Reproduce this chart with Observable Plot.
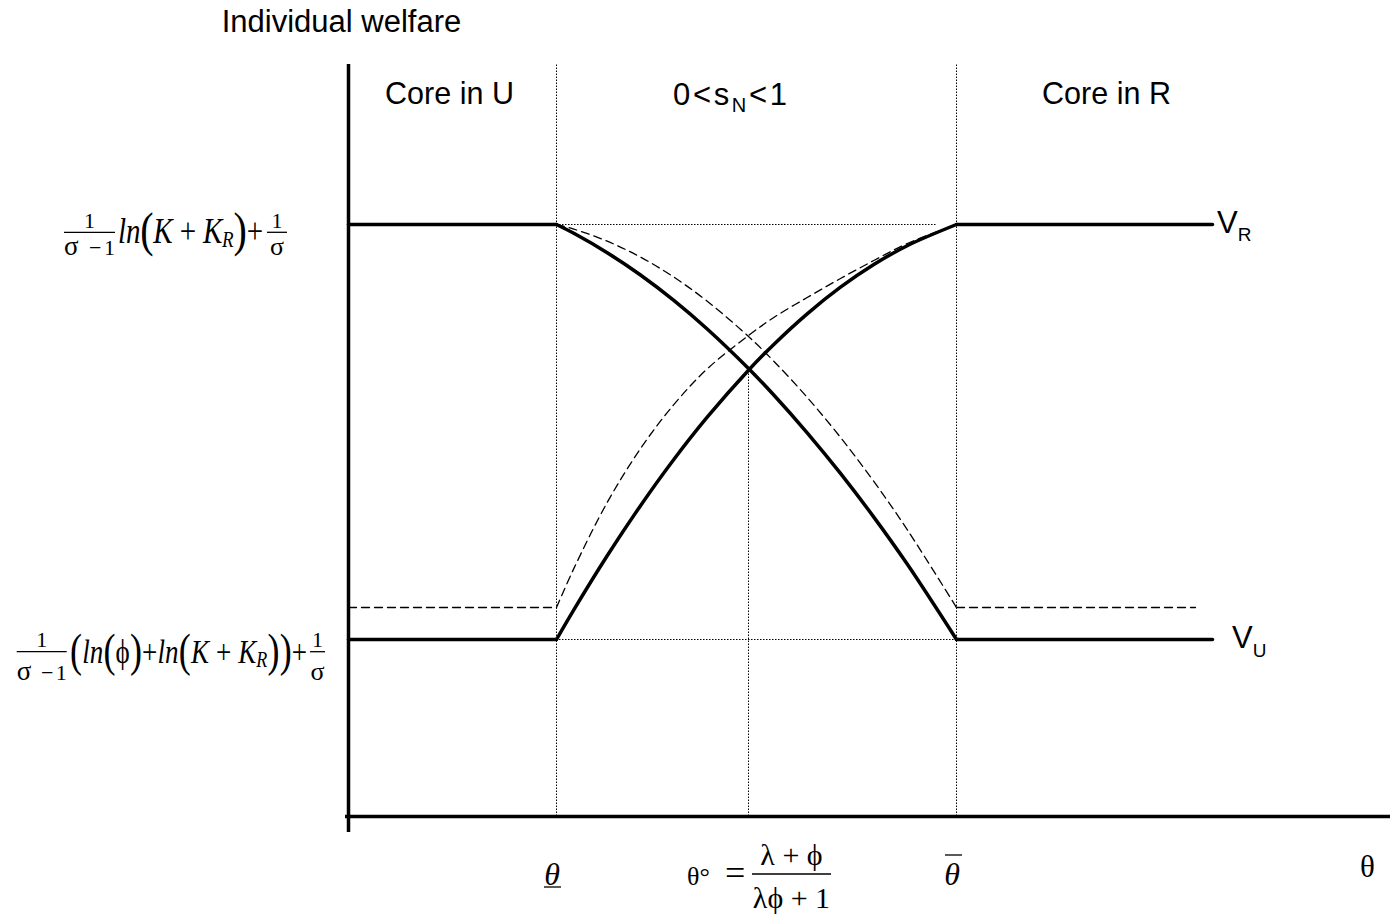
<!DOCTYPE html>
<html><head><meta charset="utf-8">
<script src="https://cdn.jsdelivr.net/npm/d3@7"></script>
<script src="https://cdn.jsdelivr.net/npm/@observablehq/plot@0.6"></script>
<style>html,body{margin:0;padding:0;background:#fff;} svg{display:block}</style>
</head><body><div id="chart"></div>
<script>
// x = θ, y = individual welfare (arbitrary units)
const xMax = 10.42, yMax = 7.52;
const thetaLow = 2.08, thetaMid = 4.0, thetaHigh = 6.08;
const highLevel = 5.92, lowLevel = 1.77, dashedLow = 2.09;
const lineEnd = 8.64, dashedEnd = 8.47, dottedTopEnd = 5.89, crossY = 4.47;

// transition region samples
const curveX   = [2.08, 2.253, 2.587, 2.92, 3.253, 3.587, 4.0, 4.253, 4.587, 4.92, 5.253, 5.587, 6.08];
const vUSolid  = [5.92, 5.832, 5.638, 5.415, 5.161, 4.875, 4.48, 4.215, 3.837, 3.431, 2.994, 2.524, 1.77];
const vRSolid  = [1.77, 2.066, 2.607, 3.108, 3.57, 3.993, 4.463, 4.721, 5.027, 5.293, 5.52, 5.708, 5.92];
const vUDashed = [5.92, 5.874, 5.753, 5.594, 5.394, 5.153, 4.8, 4.553, 4.191, 3.791, 3.351, 2.869, 2.09];
const vRDashed = [2.09, 2.479, 3.14, 3.679, 4.119, 4.476, 4.81, 4.99, 5.19, 5.38, 5.56, 5.73, 5.92];

const regionLabels = ["Core in U", "0<s_N<1", "Core in R"];
const regionX = [1.01, 3.82, 7.58];

// flat segments: [series, x1, x2, level, dashed]
const flatSegs = [
  ["VU-left", 0, thetaLow, highLevel, false],
  ["VU-right", thetaHigh, lineEnd, lowLevel, false],
  ["VR-left", 0, thetaLow, lowLevel, false],
  ["VR-right", thetaHigh, lineEnd, highLevel, false],
  ["D-left", 0, thetaLow, dashedLow, true],
  ["D-right", thetaHigh, dashedEnd, dashedLow, true]
];
const flatData = flatSegs.flatMap(([s, x1, x2, y, d]) => [{s, x: x1, y, d}, {s, x: x2, y, d}]);
const curveData = [
  ["VU", vUSolid, false], ["VR", vRSolid, false], ["VUd", vUDashed, true], ["VRd", vRDashed, true]
].flatMap(([s, ys, d]) => curveX.map((x, i) => ({s, x, y: ys[i], d})));

const solidW = 3.5, dashW = 1.3, dashPat = "8,5", dotPat = "1.5,1.5";

const plot = Plot.plot({
  width: 1390, height: 916,
  marginLeft: 348, marginRight: 0, marginTop: 64, marginBottom: 100,
  x: {domain: [0, xMax], axis: null},
  y: {domain: [0, yMax], axis: null},
  style: {background: "#fff", overflow: "visible"},
  marks: [
    Plot.ruleX([thetaLow, thetaHigh], {y1: 0, y2: yMax, stroke: "#000", strokeWidth: 1, strokeDasharray: dotPat}),
    Plot.ruleX([thetaMid], {y1: 0, y2: crossY, stroke: "#000", strokeWidth: 1, strokeDasharray: dotPat}),
    Plot.ruleY([highLevel], {x1: thetaLow, x2: dottedTopEnd, stroke: "#000", strokeWidth: 1, strokeDasharray: dotPat}),
    Plot.ruleY([lowLevel], {x1: thetaLow, x2: thetaHigh, stroke: "#000", strokeWidth: 1, strokeDasharray: dotPat}),
    Plot.line(flatData.filter(d => !d.d), {x: "x", y: "y", z: "s", stroke: "#000", strokeWidth: solidW}),
    Plot.line(flatData.filter(d => d.d), {x: "x", y: "y", z: "s", stroke: "#000", strokeWidth: dashW, strokeDasharray: dashPat}),
    Plot.line(curveData.filter(d => d.d), {x: "x", y: "y", z: "s", curve: "catmull-rom", stroke: "#000", strokeWidth: dashW, strokeDasharray: dashPat}),
    Plot.line(curveData.filter(d => !d.d), {x: "x", y: "y", z: "s", curve: "catmull-rom", stroke: "#000", strokeWidth: solidW}),
    Plot.ruleX([0], {y1: -0.16, y2: yMax, stroke: "#000", strokeWidth: 3.5}),
    Plot.ruleY([0], {x1: -0.03, x2: xMax, stroke: "#000", strokeWidth: 3.5}),
    Plot.text([0, 2], {x: i => regionX[i], y: 7.22, text: i => regionLabels[i],
      fontSize: 30.5, fontFamily: "Liberation Sans, Arial, sans-serif", fill: "#000"})
  ]
});
document.getElementById("chart").appendChild(plot);

const X = plot.scale("x"), Y = plot.scale("y");
const px = v => X.apply(v), py = v => Y.apply(v);
const svg = d3.select(plot);
const g = svg.append("g").attr("fill", "#000");
const SANS = "Liberation Sans, Arial, sans-serif";
const SERIF = "Liberation Serif, Times New Roman, serif";

function txt(x, y, parts, opts = {}) {
  const t = g.append("text").attr("x", x).attr("y", y)
    .attr("font-family", opts.family || SERIF)
    .attr("font-size", opts.size || 24)
    .attr("text-anchor", opts.anchor || "start");
  if (opts.len) t.attr("textLength", opts.len).attr("lengthAdjust", opts.adj || "spacing");
  if (opts.sy) t.attr("transform", `translate(0,${y}) scale(1,${opts.sy}) translate(0,${-y})`);
  let shift = 0;
  for (const p of parts) {
    const s = t.append("tspan").text(p.t);
    if (p.i) s.attr("font-style", "italic");
    if (p.s) s.attr("font-size", p.s);
    if (p.f) s.attr("font-family", p.f);
    const want = p.b || 0;
    if (want !== shift) { s.attr("dy", want - shift); shift = want; }
  }
  return t;
}
function bar(x1, x2, y, w = 1.3) {
  g.append("line").attr("x1", x1).attr("x2", x2).attr("y1", y).attr("y2", y)
    .attr("stroke", "#000").attr("stroke-width", w);
}
function frac(cx, x1, x2, yb, num, den, size, nb, db, dlen) {
  bar(x1, x2, yb);
  txt(cx, yb + nb, num, {anchor: "middle", size});
  txt(cx, yb + db, den, {anchor: "middle", size, len: dlen});
}

// title
txt(221.7, 31.7, [{t: "Individual welfare"}], {family: SANS, size: 31});

// middle region label 0<s_N<1
txt(px(regionX[1]), py(7.22) + 11, [{t: "0<s"}, {t: "N", s: 20, b: 7}, {t: "<1", b: 0}], {family: SANS, size: 31, anchor: "middle", len: 114});

// V labels
const yH = py(highLevel), yL = py(lowLevel);
txt(px(lineEnd) + 5, yH + 9, [{t: "V"}, {t: "R", s: 19, b: 8}], {family: SANS, size: 31});
txt(px(lineEnd) + 20, yL + 9, [{t: "V"}, {t: "U", s: 19, b: 9}], {family: SANS, size: 31});

// top y formula
{
  const yb = yH + 8.3;
  frac(89.5, 64, 115, yb, [{t: "1"}], [{t: "σ", s: 27}, {t: " −1"}], 22, -4.5, 23, 51);
  txt(118, yb + 11, [
    {t: "ln", i: true}, {t: "(", s: 40, b: 2}, {t: "K", i: true, b: 0}, {t: " + "}, {t: "K", i: true},
    {t: "R", i: true, s: 19, b: 3}, {t: ")", s: 40, b: 2}, {t: "+", b: 0}
  ], {size: 29, len: 145, sy: 1.2});
  frac(277, 267, 287, yb, [{t: "1"}], [{t: "σ", s: 26}], 22, -4.5, 23);
}
// bottom y formula
{
  const yb = yL + 12.7;
  frac(41.7, 16.7, 66.7, yb, [{t: "1"}], [{t: "σ", s: 27}, {t: " −1"}], 22, -5, 28.3, 50);
  txt(70, yb + 11.3, [
    {t: "(", s: 36, b: 2}, {t: "ln", i: true, b: 0}, {t: "(", s: 36, b: 2}, {t: "ϕ", b: 0}, {t: ")", s: 36, b: 2},
    {t: "+", b: 0}, {t: "ln", i: true}, {t: "(", s: 36, b: 2}, {t: "K", i: true, b: 0}, {t: " + "}, {t: "K", i: true},
    {t: "R", i: true, s: 18, b: 3}, {t: "))", s: 36, b: 2}, {t: "+", b: 0}
  ], {size: 27, len: 237, sy: 1.28});
  frac(317.5, 310, 325, yb, [{t: "1"}], [{t: "σ", s: 26}], 22, -5, 28.3);
}

// x labels
const y0 = py(0);
const xl = px(thetaLow) - 4;
txt(xl, y0 + 69, [{t: "θ", i: true}], {size: 32, anchor: "middle"});
bar(xl - 8, xl + 9, y0 + 71);
const xh = px(thetaHigh) - 4;
txt(xh, y0 + 69, [{t: "θ", i: true}], {size: 32, anchor: "middle"});
bar(xh - 7, xh + 10, y0 + 39);
// θ° = (λ+ϕ)/(λϕ+1)
txt(687, y0 + 69, [{t: "θ°"}], {size: 26});
txt(725, y0 + 69, [{t: "="}], {size: 36});
frac(791.5, 752, 831, y0 + 58, [{t: "λ + ϕ"}], [{t: "λϕ + 1"}], 30, -9, 34);
// θ axis name
txt(px(10.12), y0 + 61, [{t: "θ"}], {size: 31});
</script>
</body></html>
